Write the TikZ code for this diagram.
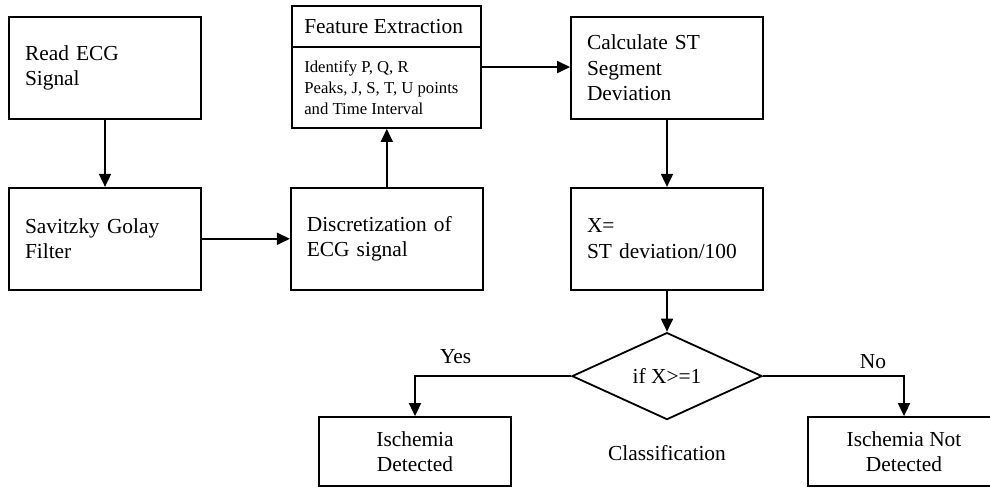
\documentclass[tikz,border=0pt]{standalone}
\usepackage{fontspec}
\setmainfont{Liberation Serif}
\usepackage{tikz}
\usetikzlibrary{shapes.geometric, shapes.multipart, arrows, arrows.meta}
\newcommand{\flowfont}{\fontsize{21.4}{25.5}\selectfont}
\newcommand{\smallflowfont}{\fontsize{16.7}{21}\selectfont}
\tikzstyle{stage} = [rectangle, minimum width=192pt, minimum height=102pt, text width=160pt, align=left, draw=black, line width=1.8pt, font=\flowfont]
\tikzstyle{result} = [rectangle, minimum width=192pt, minimum height=69pt, align=center, draw=black, line width=1.8pt, font=\flowfont]
\tikzstyle{decision} = [diamond, minimum width=190pt, minimum height=87pt, inner sep=0pt, draw=black, line width=1.8pt, font=\flowfont]
\tikzstyle{featurebox} = [rectangle split, rectangle split parts=2, rectangle split part align={left}, inner xsep=12pt, inner ysep=12.5pt, draw=black, line width=1.8pt, font=\flowfont]
\tikzstyle{arrow} = [line width=1.8pt, -{Triangle[length=13pt, width=12pt]}]
\tikzstyle{branch} = [inner sep=2pt, font=\flowfont]
\usetikzlibrary{positioning}

\begin{document}
\begin{tikzpicture}[x=1pt, y=-1pt]
        \useasboundingbox (0,0) rectangle (990,489);
        \node[stage] (read) at (105,68) {Read ECG\\Signal};
        \node[stage, below=67pt of read] (savitzky) {Savitzky Golay\\Filter};
        \node[stage, right=88pt of savitzky] (discrete) {Discretization of\\ECG signal};
        \node[featurebox, above=58pt of discrete] (feature) {Feature Extraction
            \nodepart{two}\parbox{165pt}{\smallflowfont\raggedright Identify P, Q, R\\Peaks, J, S, T, U points\\and Time Interval}};
        \node[stage] (deviation) at (667,68) {Calculate ST\\Segment\\Deviation};
        \node[stage, below=67pt of deviation] (ratio) {X=\\ST deviation/100};
        \node[decision, below=41pt of ratio] (check) {if X>=1};
        \node[branch, below=23pt of check] (classify) {Classification};
        \node[result] (detected) at (415,451.5) {Ischemia\\Detected};
        \node[result] (notdetected) at (904,451.5) {Ischemia Not\\Detected};

        \draw[arrow] (read) -- (savitzky);
        \draw[arrow] (savitzky) -- (discrete);
        \draw[arrow] (discrete) -- (discrete |- feature.south);
        \draw[arrow] (feature) -- (feature -| deviation.west);
        \draw[arrow] (deviation) -- (ratio);
        \draw[arrow] (ratio) -- (check);
        \draw[arrow] (check.west) -| node[branch, pos=0.37, above=9pt] {Yes} (detected.north);
        \draw[arrow] (check.east) -| node[branch, pos=0.39, above=4pt] {No} (notdetected.north);
    \end{tikzpicture}
\end{document}
